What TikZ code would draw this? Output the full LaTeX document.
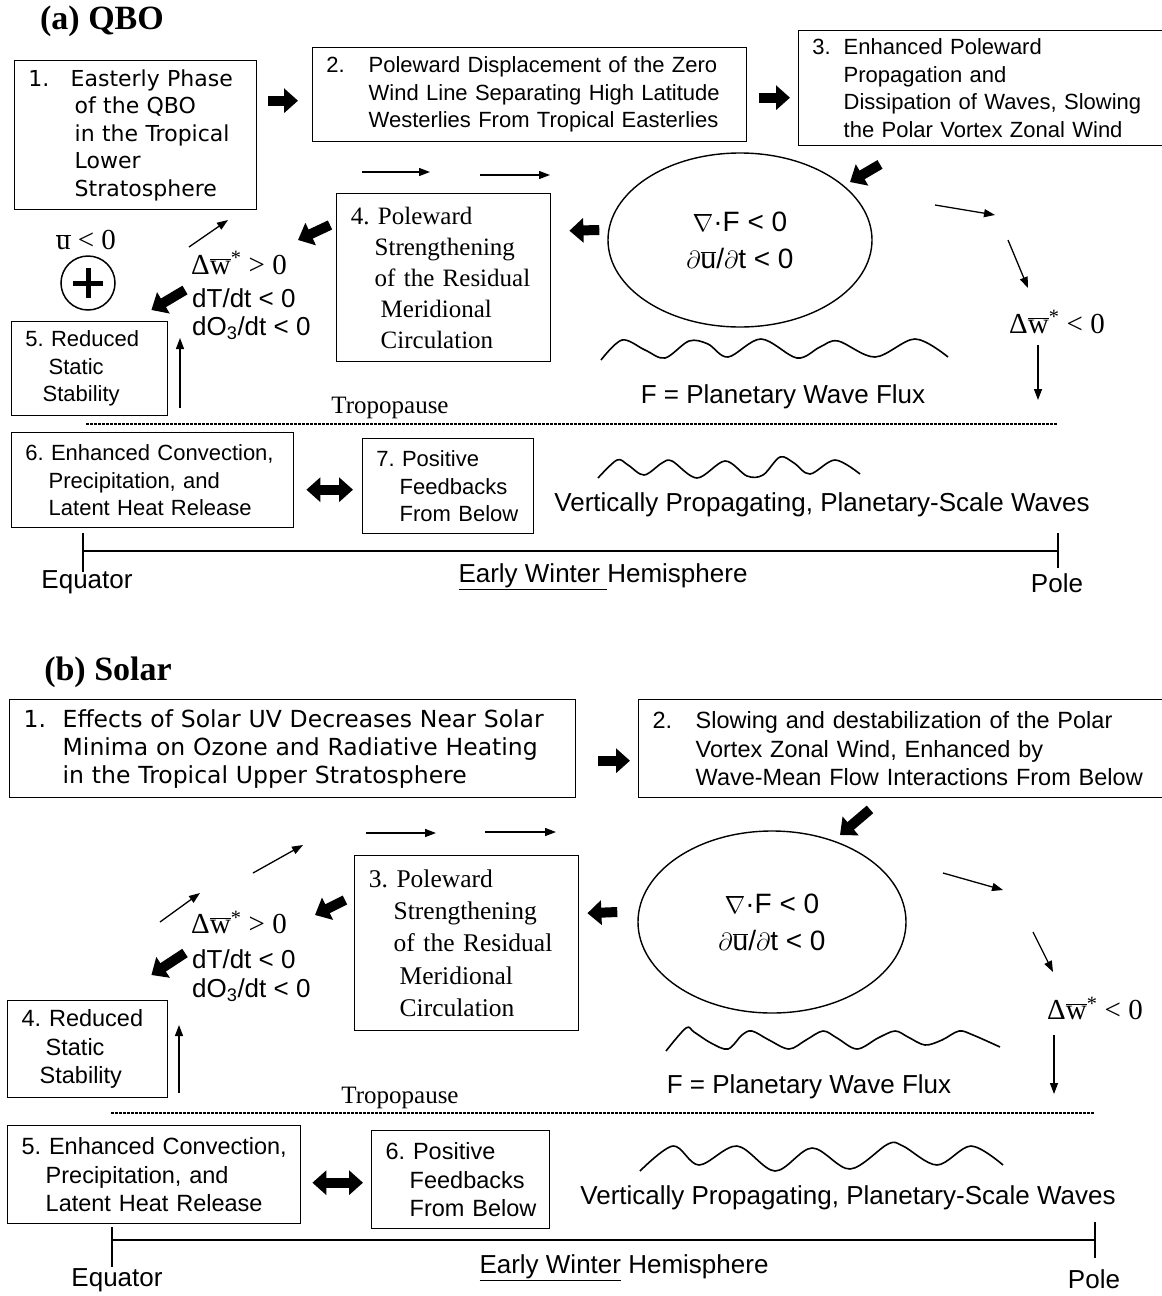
\documentclass[tikz,border=0pt]{standalone}
\usepackage{fontspec}
\setmainfont{Liberation Serif}
\setsansfont{Liberation Sans}
\newfontfamily\verdfont{DejaVu Sans}
\usetikzlibrary{arrows.meta,shapes.geometric,calc}
\frenchspacing

\newcommand{\itemno}[2]{\makebox[#1pt][l]{#2}}
\newcommand{\indentby}[1]{\hspace*{#1pt}}
\newcommand{\ubar}{$\overline{\mbox{u}}$}
\newcommand{\wbar}{Δ$\overline{\mbox{w}}$\textsuperscript{*}}

\begin{document}
\begin{tikzpicture}[x=1pt,y=-1pt,
  box/.style={draw,line width=1.4pt,anchor=north west,align=left,inner xsep=10pt,inner ysep=2pt},
  sansA/.style={font=\sffamily\fontsize{22}{27.5}\selectfont},
  sansB/.style={font=\sffamily\fontsize{23.5}{28.5}\selectfont},
  verdA/.style={font=\verdfont\fontsize{22}{27.5}\selectfont},
  verdB/.style={font=\verdfont\fontsize{23.5}{28}\selectfont},
  serifA/.style={font=\rmfamily\fontsize{25}{31}\selectfont},
  serifB/.style={font=\rmfamily\fontsize{25.5}{32.3}\selectfont},
  title/.style={font=\rmfamily\bfseries\fontsize{34}{34}\selectfont},
  vortex/.style={draw,ellipse,line width=1.4pt,align=center,inner sep=0pt,font=\sffamily\fontsize{28}{37}\selectfont},
  lbl/.style={font=\sffamily\fontsize{26}{30}\selectfont},
  mlbl/.style={font=\rmfamily\fontsize{29}{32}\selectfont},
  fat/.style={line width=10pt,-{Triangle[length=14pt,width=24pt]}},
  fatboth/.style={line width=10pt,{Triangle[length=14pt,width=24pt]}-{Triangle[length=14pt,width=24pt]}},
  flowarr/.style={line width=1.3pt,-{Triangle[length=11pt,width=8pt]}},
  trop/.style={line width=1.3pt,dash pattern=on 3pt off 1pt},
  axis/.style={line width=2pt},
  wave/.style={line width=1.6pt,line join=round}]
\useasboundingbox (0,0) rectangle (1162,1296);

% ---------------- (a) QBO ----------------
\node[title] (ttlA) at (102,21) {(a) QBO};

\node[box,verdA,text width=222pt,minimum height=149pt] (a1) at (14,60)
  {\itemno{46}{\,1.}Easterly Phase\\\indentby{50}of the QBO\\\indentby{50}in the Tropical\\\indentby{50}Lower\\\indentby{50}Stratosphere};
\node[box,sansA,text width=414pt,minimum height=94pt] (a2) at (312,47)
  {\itemno{46}{\,2.}Poleward Displacement of the Zero\\\indentby{46}Wind Line Separating High Latitude\\\indentby{46}Westerlies From Tropical Easterlies};
\node[box,sansA,text width=360pt,minimum height=115pt] (a3) at (798,30)
  {\itemno{35}{\,3.}Enhanced Poleward\\\indentby{35}Propagation and\\\indentby{35}Dissipation of Waves, Slowing\\\indentby{35}the Polar Vortex Zonal Wind};
\node[vortex,minimum width=264pt,minimum height=174pt] (vortA) at (740,240)
  {$\nabla$·F < 0\\$\partial$\ubar/$\partial$t < 0};
\node[box,serifA,text width=194pt,minimum height=168pt] (a4) at (336,193)
  {\,4. Poleward\\\indentby{28}Strengthening\\\indentby{28}of the Residual\\\indentby{34}Meridional\\\indentby{34}Circulation};
\node[box,sansA,text width=136pt,minimum height=94pt] (a5) at (11,321)
  {\,5. Reduced\\\indentby{27}Static\\\indentby{21}Stability};
\node[box,sansA,text width=262pt,minimum height=95pt] (a6) at (11,432)
  {\,6. Enhanced Convection,\\\indentby{27}Precipitation, and\\\indentby{27}Latent Heat Release};
\node[box,sansA,text width=151pt,minimum height=95pt] (a7) at (362,438)
  {\,7. Positive\\\indentby{27}Feedbacks\\\indentby{27}From Below};

\node[mlbl] (uA) at (86,240) {\ubar{} < 0};
\node[draw,circle,line width=1.5pt,minimum size=54pt] (plusA) at (88,283) {};
\draw[line width=5pt] ($(plusA)+(-15,0)$) -- ($(plusA)+(15,0)$) ($(plusA)+(0,-15)$) -- ($(plusA)+(0,15)$);
\node[mlbl,anchor=west,inner sep=0pt] (wA) at (191,263) {\wbar{} > 0};
\node[lbl,anchor=west,inner sep=0pt] (dtA) at (192,298) {dT/dt < 0};
\node[lbl,anchor=west,inner sep=0pt] (doA) at (192,328) {dO\textsubscript{3}/dt < 0};
\node[mlbl] (wnA) at (1057,322) {\wbar{} < 0};
\node[lbl] (fluxA) at (783,397) {F = Planetary Wave Flux};
\node[font=\rmfamily\fontsize{25}{28}\selectfont] (tropA) at (390,408) {Tropopause};
\node[lbl] (wavesA) at (822,505) {Vertically Propagating, Planetary-Scale Waves};
\node[lbl] (eqA) at (87,582) {Equator};
\node[lbl] (hemiA) at (603,577) {\underline{Early Winter\ }Hemisphere};
\node[lbl] (poleA) at (1057,583) {Pole};

% fat arrows
\draw[fat] ($(a1.east |- a2.west)+(11,6)$) -- ($(a2.west)+(-14,6)$);
\draw[fat] ($(a2.east)+(12,3)$) -- ($(a3.west |- a2.east)+(-8,3)$);
\draw[fat] ($(a3.south west)+(82,18)$) -- ($(vortA.center)+(110,-58)$);
\draw[fat] ($(vortA.west)+(-8,-10)$) -- ($(a4.east)+(18,-47)$);
\draw[fat] ($(a4.north west)+(-6,32)$) -- ++(-32,15);
\draw[fat] ($(dtA.west)+(-7,-8)$) -- ($(a5.north east)+(-17,-11)$);
\draw[fatboth] ($(a6.east)+(12,9.5)$) -- ($(a7.west)+(-9,3.5)$);

% circulation
\foreach \xa/\ya/\xb/\yb [count=\i] in {935/205/995/215, 1008/240/1028/288, 1038/345/1038/400,
    189/247/228/220, 362/172/430/172, 480/175/550/175, 180/408/180/338}{
  \coordinate (fa\i) at (\xa,\ya);
  \coordinate (ga\i) at (\xb,\yb);
  \draw[flowarr] (fa\i) -- (ga\i);
}

\draw[wave] plot[smooth,tension=0.55] coordinates {(601,360) (622,340) (645,350) (665,358) (689,341) (708,344) (728,357) (761,339) (797,358) (820,347) (838,341) (875,357) (915,339) (948,357)};
\draw[wave] plot[smooth,tension=0.55] coordinates {(598,478) (617,460) (628,465) (644,475) (662,463) (672,461) (697,478) (725,461) (747,476) (763,475) (780,457) (794,463) (810,474) (835,460) (860,474)};
\draw[trop] (86,424) -- (1058,424);
\draw[axis] (83,551) -- (1058,551);
\draw[line width=1.5pt] (83,533) -- (83,572) (1058,533) -- (1058,568);

% ---------------- (b) Solar ----------------
\node[title] (ttlB) at (108,672) {(b) Solar};

\node[box,verdB,text width=546pt,minimum height=98pt] (b1) at (9,699)
  {\itemno{43}{\,1.}Effects of Solar UV Decreases Near Solar\\\indentby{43}Minima on Ozone and Radiative Heating\\\indentby{43}in the Tropical Upper Stratosphere};
\node[box,sansB,text width=520pt,minimum height=98pt] (b2) at (638,699)
  {\itemno{47}{\,2.}Slowing and destabilization of the Polar\\\indentby{47}Vortex Zonal Wind, Enhanced by\\\indentby{47}Wave-Mean Flow Interactions From Below};
\node[vortex,minimum width=268pt,minimum height=182pt] (vortB) at (772,922)
  {$\nabla$·F < 0\\$\partial$\ubar/$\partial$t < 0};
\node[box,serifB,text width=204pt,minimum height=175pt] (b3) at (354,855)
  {\,3. Poleward\\\indentby{29}Strengthening\\\indentby{29}of the Residual\\\indentby{35}Meridional\\\indentby{35}Circulation};
\node[box,sansB,text width=140pt,minimum height=97pt] (b4) at (7,1000)
  {\,4. Reduced\\\indentby{28}Static\\\indentby{22}Stability};
\node[box,sansB,text width=273pt,minimum height=98pt] (b5) at (7,1125)
  {\,5. Enhanced Convection,\\\indentby{28}Precipitation, and\\\indentby{28}Latent Heat Release};
\node[box,sansB,text width=158pt,minimum height=98pt] (b6) at (371,1130)
  {\,6. Positive\\\indentby{28}Feedbacks\\\indentby{28}From Below};

\node[mlbl,anchor=west,inner sep=0pt] (wB) at (191,922) {\wbar{} > 0};
\node[lbl,anchor=west,inner sep=0pt] (dtB) at (192,959) {dT/dt < 0};
\node[lbl,anchor=west,inner sep=0pt] (doB) at (192,990) {dO\textsubscript{3}/dt < 0};
\node[mlbl] (wnB) at (1095,1008) {\wbar{} < 0};
\node[lbl] (fluxB) at (809,1087) {F = Planetary Wave Flux};
\node[font=\rmfamily\fontsize{25}{28}\selectfont] (tropB) at (400,1098) {Tropopause};
\node[lbl] (wavesB) at (848,1198) {Vertically Propagating, Planetary-Scale Waves};
\node[lbl] (eqB) at (117,1280) {Equator};
\node[lbl] (hemiB) at (624,1268) {\underline{Early Winter}\ Hemisphere};
\node[lbl] (poleB) at (1094,1279) {Pole};

% fat arrows
\draw[fat] ($(b1.east)+(22,12)$) -- ($(b2.west)+(-8,12)$);
\draw[fat] ($(b2.south west)+(232,11)$) -- ($(vortB.center)+(68,-87)$);
\draw[fat] ($(vortB.west)+(-20,-10)$) -- ($(b3.east)+(8,-30)$);
\draw[fat] ($(b3.north west)+(-9,45)$) -- ++(-30,15);
\draw[fat] ($(dtB.west)+(-7,-6)$) -- ($(b4.north east)+(-17,-25)$);
\draw[fatboth] ($(b5.east)+(11,8)$) -- ($(b6.west)+(-8,3)$);

% circulation
\foreach \xa/\ya/\xb/\yb [count=\i] in {943/873/1003/890, 1033/932/1053/972, 1054/1035/1054/1094,
    160/922/200/893, 253/873/303/845, 366/833/436/833, 485/832/556/832, 179/1093/179/1025}{
  \coordinate (fb\i) at (\xa,\ya);
  \coordinate (gb\i) at (\xb,\yb);
  \draw[flowarr] (fb\i) -- (gb\i);
}

\draw[wave] plot[smooth,tension=0.55] coordinates {(666,1051) (686,1028) (694,1032) (711,1043) (728,1049) (742,1035) (752,1031) (769,1040) (789,1049) (806,1040) (823,1031) (837,1038) (857,1049) (878,1038) (895,1031) (908,1037) (925,1045) (942,1040) (959,1031) (973,1035) (1000,1047)};
\draw[wave] plot[smooth,tension=0.55] coordinates {(640,1171) (673,1146) (699,1165) (737,1146) (775,1171) (812,1148) (850,1169) (888,1144) (903,1146) (937,1165) (971,1146) (1003,1165)};
\draw[trop] (111,1113) -- (1095,1113);
\draw[axis] (112,1240) -- (1095,1240);
\draw[line width=1.5pt] (112,1227) -- (112,1267) (1095,1222) -- (1095,1258);
\end{tikzpicture}
\end{document}
